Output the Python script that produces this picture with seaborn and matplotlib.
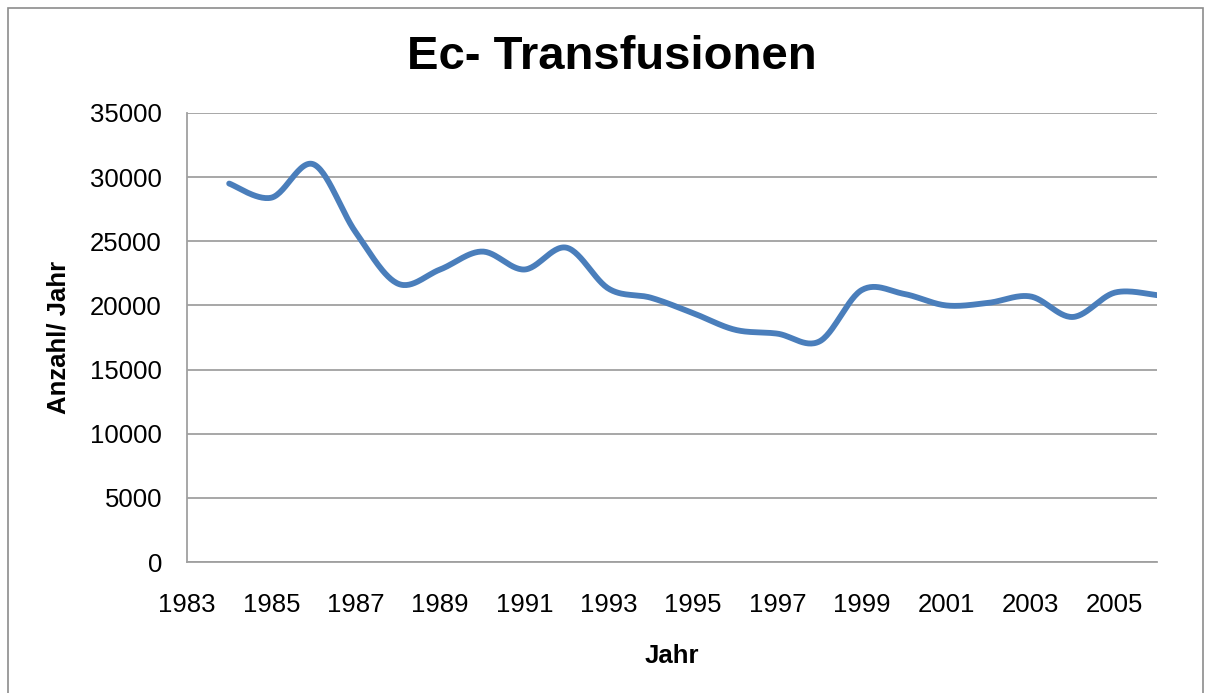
import numpy as np
import pandas as pd
import matplotlib
matplotlib.use('Agg')
import matplotlib.pyplot as plt
from matplotlib.patches import Rectangle
import seaborn as sns

# Werte
jahre = [1984, 1985, 1986, 1987, 1988, 1989, 1990, 1991, 1992, 1993, 1994, 1995,
         1996, 1997, 1998, 1999, 2000, 2001, 2002, 2003, 2004, 2005, 2006]
anzahl = [29500, 28400, 31000, 25700, 21700, 22800, 24200, 22800, 24500, 21300, 20600, 19400,
          18100, 17800, 17200, 21200, 20900, 20000, 20200, 20700, 19100, 21000, 20800]
x_ticks = list(range(1983, 2006, 2))
y_ticks = list(range(0, 35001, 5000))


def glatt(x, y, n=30):
    # Excel-artige Glättung (Catmull-Rom / Bezier durch die Punkte)
    x = np.asarray(x, float)
    y = np.asarray(y, float)
    px = np.concatenate([[x[0]], x, [x[-1]]])
    py = np.concatenate([[y[0]], y, [y[-1]]])
    xs, ys = [], []
    t = np.linspace(0, 1, n, endpoint=False)
    for i in range(1, len(px) - 2):
        p0x, p1x, p2x, p3x = px[i - 1], px[i], px[i + 1], px[i + 2]
        p0y, p1y, p2y, p3y = py[i - 1], py[i], py[i + 1], py[i + 2]
        c1x, c1y = p1x + (p2x - p0x) / 6, p1y + (p2y - p0y) / 6
        c2x, c2y = p2x - (p3x - p1x) / 6, p2y - (p3y - p1y) / 6
        b = [(1 - t) ** 3, 3 * (1 - t) ** 2 * t, 3 * (1 - t) * t ** 2, t ** 3]
        xs.append(b[0] * p1x + b[1] * c1x + b[2] * c2x + b[3] * p2x)
        ys.append(b[0] * p1y + b[1] * c1y + b[2] * c2y + b[3] * p2y)
    xs.append([x[-1]])
    ys.append([y[-1]])
    return np.concatenate(xs), np.concatenate(ys)


sns.set_style('white')
plt.rcParams['font.family'] = ['Liberation Sans', 'DejaVu Sans']
plt.rcParams['text.color'] = 'black'
plt.rcParams['axes.labelcolor'] = 'black'

fig = plt.figure(figsize=(12.11, 6.93), dpi=100)
ax = fig.add_axes([187 / 1211, 1 - 562 / 693, (1157 - 187) / 1211, (562 - 113) / 693])

gx, gy = glatt(jahre, anzahl)
df = pd.DataFrame({'Jahr': gx, 'Anzahl': gy})
sns.lineplot(data=df, x='Jahr', y='Anzahl', ax=ax, color='#4A7EBB', linewidth=4.2,
             sort=False, estimator=None, solid_capstyle='round')

ax.set_xlim(1983, 2006)
ax.set_ylim(0, 35000)
ax.set_xticks(x_ticks)
ax.set_yticks(y_ticks)
ax.tick_params(axis='both', length=0, labelsize=18.5, colors='black')
ax.tick_params(axis='x', pad=22)
ax.tick_params(axis='y', pad=18)
ax.yaxis.grid(True, color='#A0A0A0', linewidth=1.3)
ax.set_axisbelow(True)

for side in ['top', 'right']:
    ax.spines[side].set_visible(False)
for side in ['left', 'bottom']:
    ax.spines[side].set_color('#A0A0A0')
    ax.spines[side].set_linewidth(1.3)

ax.set_xlabel('Jahr', fontsize=18.5, fontweight='bold')
ax.set_ylabel('Anzahl/ Jahr', fontsize=18.5, fontweight='bold')
ax.xaxis.set_label_coords(0.5, -0.183)
ax.yaxis.set_label_coords(-0.120, 0.5)

fig.text(612 / 1211, 1 - 57 / 693, 'Ec- Transfusionen', ha='center', va='center',
         fontsize=34, fontweight='bold')

# Rahmen des Diagrammbereichs
fig.add_artist(Rectangle((8 / 1211, -0.05), (1203 - 8) / 1211, 1.05 - 8 / 693,
                         transform=fig.transFigure, fill=False, edgecolor='#8C8C8C',
                         linewidth=1.2))

plt.savefig('out.png', dpi=100)
